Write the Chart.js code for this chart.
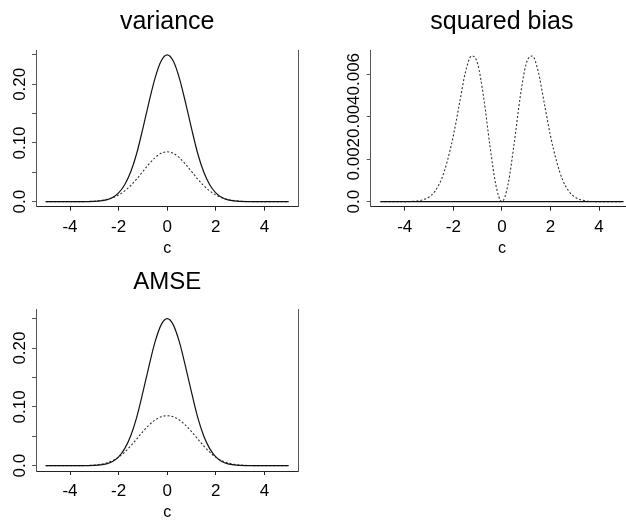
<!DOCTYPE html>
<html>
<head>
<meta charset="utf-8">
<title>variance, squared bias, AMSE</title>
<script src="https://cdn.jsdelivr.net/npm/chart.js@4.4.0/dist/chart.umd.min.js"></script>
<style>
    html, body { margin: 0; padding: 0; background: #fff; overflow: hidden; }
    body { width: 626px; height: 520px; position: relative; }
    .panel { position: absolute; }
</style>
</head>
<body>
<div class="panel" style="left:0;top:0;width:313px;height:260px"><canvas id="varianceChart"></canvas></div>
<div class="panel" style="left:313px;top:0;width:330px;height:260px"><canvas id="biasChart"></canvas></div>
<div class="panel" style="left:0;top:260px;width:313px;height:260px"><canvas id="amseChart"></canvas></div>
<script>
// grid of c values read along the x axis
const cGrid = [-5, -4.75, -4.5, -4.25, -4, -3.75, -3.5, -3.25, -3, -2.75, -2.5, -2.25, -2, -1.75, -1.5, -1.25, -1, -0.75, -0.5, -0.25,
    0, 0.25, 0.5, 0.75, 1, 1.25, 1.5, 1.75, 2, 2.25, 2.5, 2.75, 3, 3.25, 3.5, 3.75, 4, 4.25, 4.5, 4.75, 5];

const varianceSolid = [0, 0, 0, 0, 0, 0, 0.0001, 0.0002, 0.0005, 0.0013, 0.0032, 0.0072, 0.015, 0.029, 0.051, 0.083, 0.125, 0.1695, 0.2105, 0.2395,
    0.25, 0.2395, 0.2105, 0.1695, 0.125, 0.083, 0.051, 0.029, 0.015, 0.0072, 0.0032, 0.0013, 0.0005, 0.0002, 0.0001, 0, 0, 0, 0, 0, 0];
const varianceDotted = [0, 0, 0, 0, 0, 0.0001, 0.0002, 0.0004, 0.0009, 0.0019, 0.0037, 0.0068, 0.0115, 0.0184, 0.0276, 0.0389, 0.0516, 0.0642, 0.075, 0.0824,
    0.085, 0.0824, 0.075, 0.0642, 0.0516, 0.0389, 0.0276, 0.0184, 0.0115, 0.0068, 0.0037, 0.0019, 0.0009, 0.0004, 0.0002, 0.0001, 0, 0, 0, 0, 0];

const biasSolid = [0, 0, 0, 0, 0, 0, 0, 0, 0, 0, 0, 0, 0, 0, 0, 0, 0, 0, 0, 0,
    0, 0, 0, 0, 0, 0, 0, 0, 0, 0, 0, 0, 0, 0, 0, 0, 0, 0, 0, 0, 0];
const biasDotted = [0, 0, 0, 0, 0, 0.00001, 0.00003, 0.00009, 0.00022, 0.0005, 0.00102, 0.0019, 0.0031, 0.0046, 0.0061, 0.00686, 0.0065, 0.0049, 0.0027, 0.0008,
    0, 0.0008, 0.0027, 0.0049, 0.0065, 0.00686, 0.0061, 0.0046, 0.0031, 0.0019, 0.00102, 0.0005, 0.00022, 0.00009, 0.00003, 0.00001, 0, 0, 0, 0, 0];

const amseSolid = [0, 0, 0, 0, 0, 0, 0.0001, 0.0002, 0.0005, 0.0013, 0.0032, 0.0072, 0.015, 0.029, 0.051, 0.083, 0.125, 0.1695, 0.2105, 0.2395,
    0.25, 0.2395, 0.2105, 0.1695, 0.125, 0.083, 0.051, 0.029, 0.015, 0.0072, 0.0032, 0.0013, 0.0005, 0.0002, 0.0001, 0, 0, 0, 0, 0, 0];
const amseDotted = [0, 0, 0, 0, 0, 0.0001, 0.0002, 0.0005, 0.0011, 0.0024, 0.0047, 0.0086, 0.0146, 0.023, 0.0337, 0.0457, 0.0581, 0.0691, 0.0777, 0.0832,
    0.085, 0.0832, 0.0777, 0.0691, 0.0581, 0.0457, 0.0337, 0.023, 0.0146, 0.0086, 0.0047, 0.0024, 0.0011, 0.0005, 0.0002, 0.0001, 0, 0, 0, 0, 0];

// ticks and labels
const xTickValues = [-4, -2, 0, 2, 4];
const xTickLabels = ["-4", "-2", "0", "2", "4"];
const bigYTicks = [0, 0.05, 0.1, 0.15, 0.2, 0.25];
const bigYLabelValues = [0, 0.1, 0.2];
const bigYLabels = ["0.0", "0.10", "0.20"];
const biasYTicks = [0, 0.002, 0.004, 0.006];
const biasYLabels = ["0.0", "0.002", "0.004", "0.006"];

const FONT = "'Liberation Sans', Arial, Helvetica, sans-serif";

function toPoints(values) {
    return cGrid.map((c, i) => ({ x: c, y: values[i] }));
}

function curve(values, dotted) {
    return {
        data: toPoints(values),
        borderColor: dotted ? "#333" : "#111",
        borderWidth: dotted ? 1.1 : 1.2,
        borderDash: dotted ? [2, 2] : [],
        pointRadius: 0,
        cubicInterpolationMode: "monotone",
        fill: false
    };
}

function panelText(info) {
    return {
        id: "panelText",
        afterDraw: function (chart) {
            let ctx = chart.ctx;
            let area = chart.chartArea;
            let xs = chart.scales.x;
            let ys = chart.scales.y;
            let mid = (area.left + area.right) / 2;
            ctx.save();
            ctx.fillStyle = "#000";
            ctx.textAlign = "center";
            ctx.textBaseline = "alphabetic";

            ctx.font = info.titleSize + "px " + FONT;
            ctx.fillText(info.title, mid, info.titleY);

            ctx.font = "17px " + FONT;
            xTickValues.forEach((v, i) => {
                ctx.fillText(xTickLabels[i], xs.getPixelForValue(v), area.bottom + 25);
            });
            ctx.font = "16px " + FONT;
            ctx.fillText("c", mid, area.bottom + 46);

            ctx.font = "17px " + FONT;
            info.yValues.forEach((v, i) => {
                ctx.save();
                ctx.translate(area.left - info.yGap, ys.getPixelForValue(v));
                ctx.rotate(-Math.PI / 2);
                ctx.fillText(info.yLabels[i], 0, 0);
                ctx.restore();
            });
            ctx.restore();
        }
    };
}

function makePanel(id, datasets, yMin, yMax, yTicks, padding, info) {
    let ctx = document.getElementById(id).getContext("2d");
    return new Chart(ctx, {
        type: "line",
        data: { datasets: datasets },
        options: {
            responsive: true,
            maintainAspectRatio: false,
            animation: false,
            layout: { padding: padding, autoPadding: false },
            plugins: { legend: { display: false }, tooltip: { enabled: false } },
            scales: {
                x: {
                    type: "linear",
                    min: -5.4,
                    max: 5.4,
                    afterBuildTicks: s => { s.ticks = xTickValues.map(v => ({ value: v })); },
                    ticks: { display: false },
                    grid: { display: true, drawOnChartArea: false, drawTicks: true, tickLength: 4, color: "#222" },
                    border: { display: true, color: "#222", width: 1 }
                },
                y: {
                    type: "linear",
                    min: yMin,
                    max: yMax,
                    afterBuildTicks: s => { s.ticks = yTicks.map(v => ({ value: v })); },
                    ticks: { display: false },
                    grid: { display: true, drawOnChartArea: false, drawTicks: true, tickLength: 4, color: "#555" },
                    border: { display: true, color: "#555", width: 1 }
                },
                y2: {
                    type: "linear",
                    position: "right",
                    min: 0,
                    max: 1,
                    ticks: { display: false },
                    grid: { display: true, drawOnChartArea: false, drawTicks: false },
                    border: { display: true, color: "#555", width: 1 }
                }
            }
        },
        plugins: [panelText(info)]
    });
}

document.addEventListener("DOMContentLoaded", function () {
    makePanel("varianceChart",
        [curve(varianceSolid, false), curve(varianceDotted, true)],
        -0.0085, 0.2584, bigYTicks,
        { left: 32, right: 14.6, top: 50, bottom: 49.3 },
        { title: "variance", titleSize: 25, titleY: 29, yValues: bigYLabelValues, yLabels: bigYLabels, yGap: 11 });

    makePanel("biasChart",
        [curve(biasSolid, false), curve(biasDotted, true)],
        -0.000235, 0.00714, biasYTicks,
        { left: 53.7, right: 9.9, top: 50, bottom: 49.3 },
        { title: "squared bias", titleSize: 25, titleY: 29, yValues: biasYTicks, yLabels: biasYLabels, yGap: 12 });

    makePanel("amseChart",
        [curve(amseSolid, false), curve(amseDotted, true)],
        -0.009, 0.2656, bigYTicks,
        { left: 32, right: 14.6, top: 49.5, bottom: 45 },
        { title: "AMSE", titleSize: 24, titleY: 29.3, yValues: bigYLabelValues, yLabels: bigYLabels, yGap: 11 });
});
</script>
</body>
</html>
